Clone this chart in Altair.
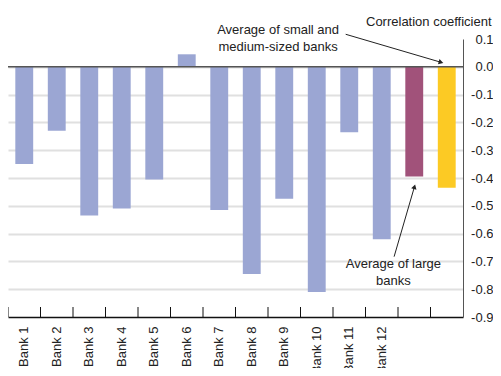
import altair as alt
import pandas as pd

# ---- data ----
categories = ["Bank 1", "Bank 2", "Bank 3", "Bank 4", "Bank 5", "Bank 6", "Bank 7",
              "Bank 8", "Bank 9", "Bank 10", "Bank 11", "Bank 12",
              "Average of large banks", "Average of small and medium-sized banks"]
values = [-0.35, -0.23, -0.535, -0.51, -0.405, 0.045, -0.515,
          -0.745, -0.475, -0.81, -0.235, -0.62, -0.395, -0.435]
groups = ["Bank"] * 12 + ["Large", "Small"]

group_domain = ["Bank", "Large", "Small"]
group_colors = ["#9BA6D3", "#A1527A", "#FCCA24"]

y_ticks = [0.1, 0.0, -0.1, -0.2, -0.3, -0.4, -0.5, -0.6, -0.7, -0.8, -0.9]
band_edges = list(range(0, 14))

ann_text = ["Average of small and\nmedium-sized banks", "Average of large\nbanks"]
ann_x = [8.31, 11.86]
ann_y = [0.132, -0.71]

arrow_x = [10.39, 11.88]
arrow_y = [0.117, -0.683]
arrow_x2 = [13.30, 12.50]
arrow_y2 = [0.017, -0.434]
arrow_angle = [106, 16]

FONT = "Liberation Sans"
YDOM = [-0.9, 0.1]
XLIN = alt.Scale(domain=[0, 14], nice=False, zero=False)
YSC = alt.Scale(domain=YDOM, nice=False, zero=False)

bars_df = pd.DataFrame({"cat": categories, "val": values, "grp": groups})
ann_df = pd.DataFrame({"text": ann_text, "x": ann_x, "y": ann_y})
arr_df = pd.DataFrame({"x": arrow_x, "y": arrow_y, "x2": arrow_x2, "y2": arrow_y2,
                       "angle": arrow_angle})
tick_df = pd.DataFrame({"e": band_edges})
zero_df = pd.DataFrame({"z": [0.0]})

minus = "\u2212"

Y_AXIS = alt.Axis(orient="right", values=y_ticks, ticks=False,
                  labelExpr=f"replace(format(datum.value, '.1f'), '{minus}', '-')",
                  labelAlign="right", labelPadding=30, labelFontSize=13,
                  labelFont=FONT, labelColor="#222222",
                  domainColor="#555555", domainWidth=1,
                  grid=True, gridWidth=2,
                  gridColor={"condition": {"test": "datum.value > 0.05 || datum.value < -0.85",
                                           "value": "transparent"},
                             "value": "#E0E0E0"},
                  title="Correlation coefficient", titleAngle=0, titleAlign="right",
                  titleBaseline="alphabetic", titleX=28, titleY=-14,
                  titleFont=FONT, titleFontSize=13, titleFontWeight="normal",
                  titleColor="#222222")

bars = alt.Chart(bars_df).mark_bar().encode(
    x=alt.X("cat:N", sort=categories,
            scale=alt.Scale(paddingInner=0.45, paddingOuter=0.225),
            axis=alt.Axis(title=None, ticks=False, labelAngle=-90, labelAlign="right",
                          labelBaseline="middle", labelPadding=9, labelFontSize=13,
                          labelFont=FONT, labelColor="#222222", domainColor="#111111",
                          domainWidth=1.5, grid=False,
                          labelExpr="indexof(datum.value, 'Bank') == 0 ? datum.value : ''")),
    y=alt.Y("val:Q", scale=YSC, axis=Y_AXIS),
    color=alt.Color("grp:N", scale=alt.Scale(domain=group_domain, range=group_colors),
                    legend=None),
)

zero = alt.Chart(zero_df).mark_rule(color="#555555", strokeWidth=1.5).encode(
    y=alt.Y("z:Q", scale=YSC, axis=Y_AXIS),
)

ticks = alt.Chart(tick_df).mark_rule(color="#111111", strokeWidth=1).encode(
    x=alt.X("e:Q", scale=XLIN, axis=None),
    y=alt.value(268),
    y2=alt.value(278),
)

arrows = alt.Chart(arr_df).mark_rule(color="#222222", strokeWidth=1).encode(
    x=alt.X("x:Q", scale=XLIN, axis=None),
    y=alt.Y("y:Q", scale=YSC, axis=Y_AXIS),
    x2="x2:Q",
    y2="y2:Q",
)

heads = alt.Chart(arr_df).mark_point(shape="triangle", filled=True, size=30,
                                     color="#222222", opacity=1).encode(
    x=alt.X("x2:Q", scale=XLIN, axis=None),
    y=alt.Y("y2:Q", scale=YSC, axis=Y_AXIS),
    angle=alt.Angle("angle:Q", scale=None),
)

texts = alt.Chart(ann_df).mark_text(font=FONT, fontSize=13, color="#222222",
                                    align="center", baseline="middle",
                                    lineBreak="\n", lineHeight=16.5).encode(
    x=alt.X("x:Q", scale=XLIN, axis=None),
    y=alt.Y("y:Q", scale=YSC, axis=Y_AXIS),
    text="text:N",
)

chart = alt.layer(bars, zero, ticks, arrows, heads, texts).resolve_scale(
    x="independent"
).properties(
    width=455, height=278,
    autosize=alt.AutoSizeParams(type="none"),
    padding={"left": 0, "top": 31, "right": 30, "bottom": 51},
).configure_view(stroke=None)

chart.save("out.html", embed_options={"renderer": "svg", "actions": False})
